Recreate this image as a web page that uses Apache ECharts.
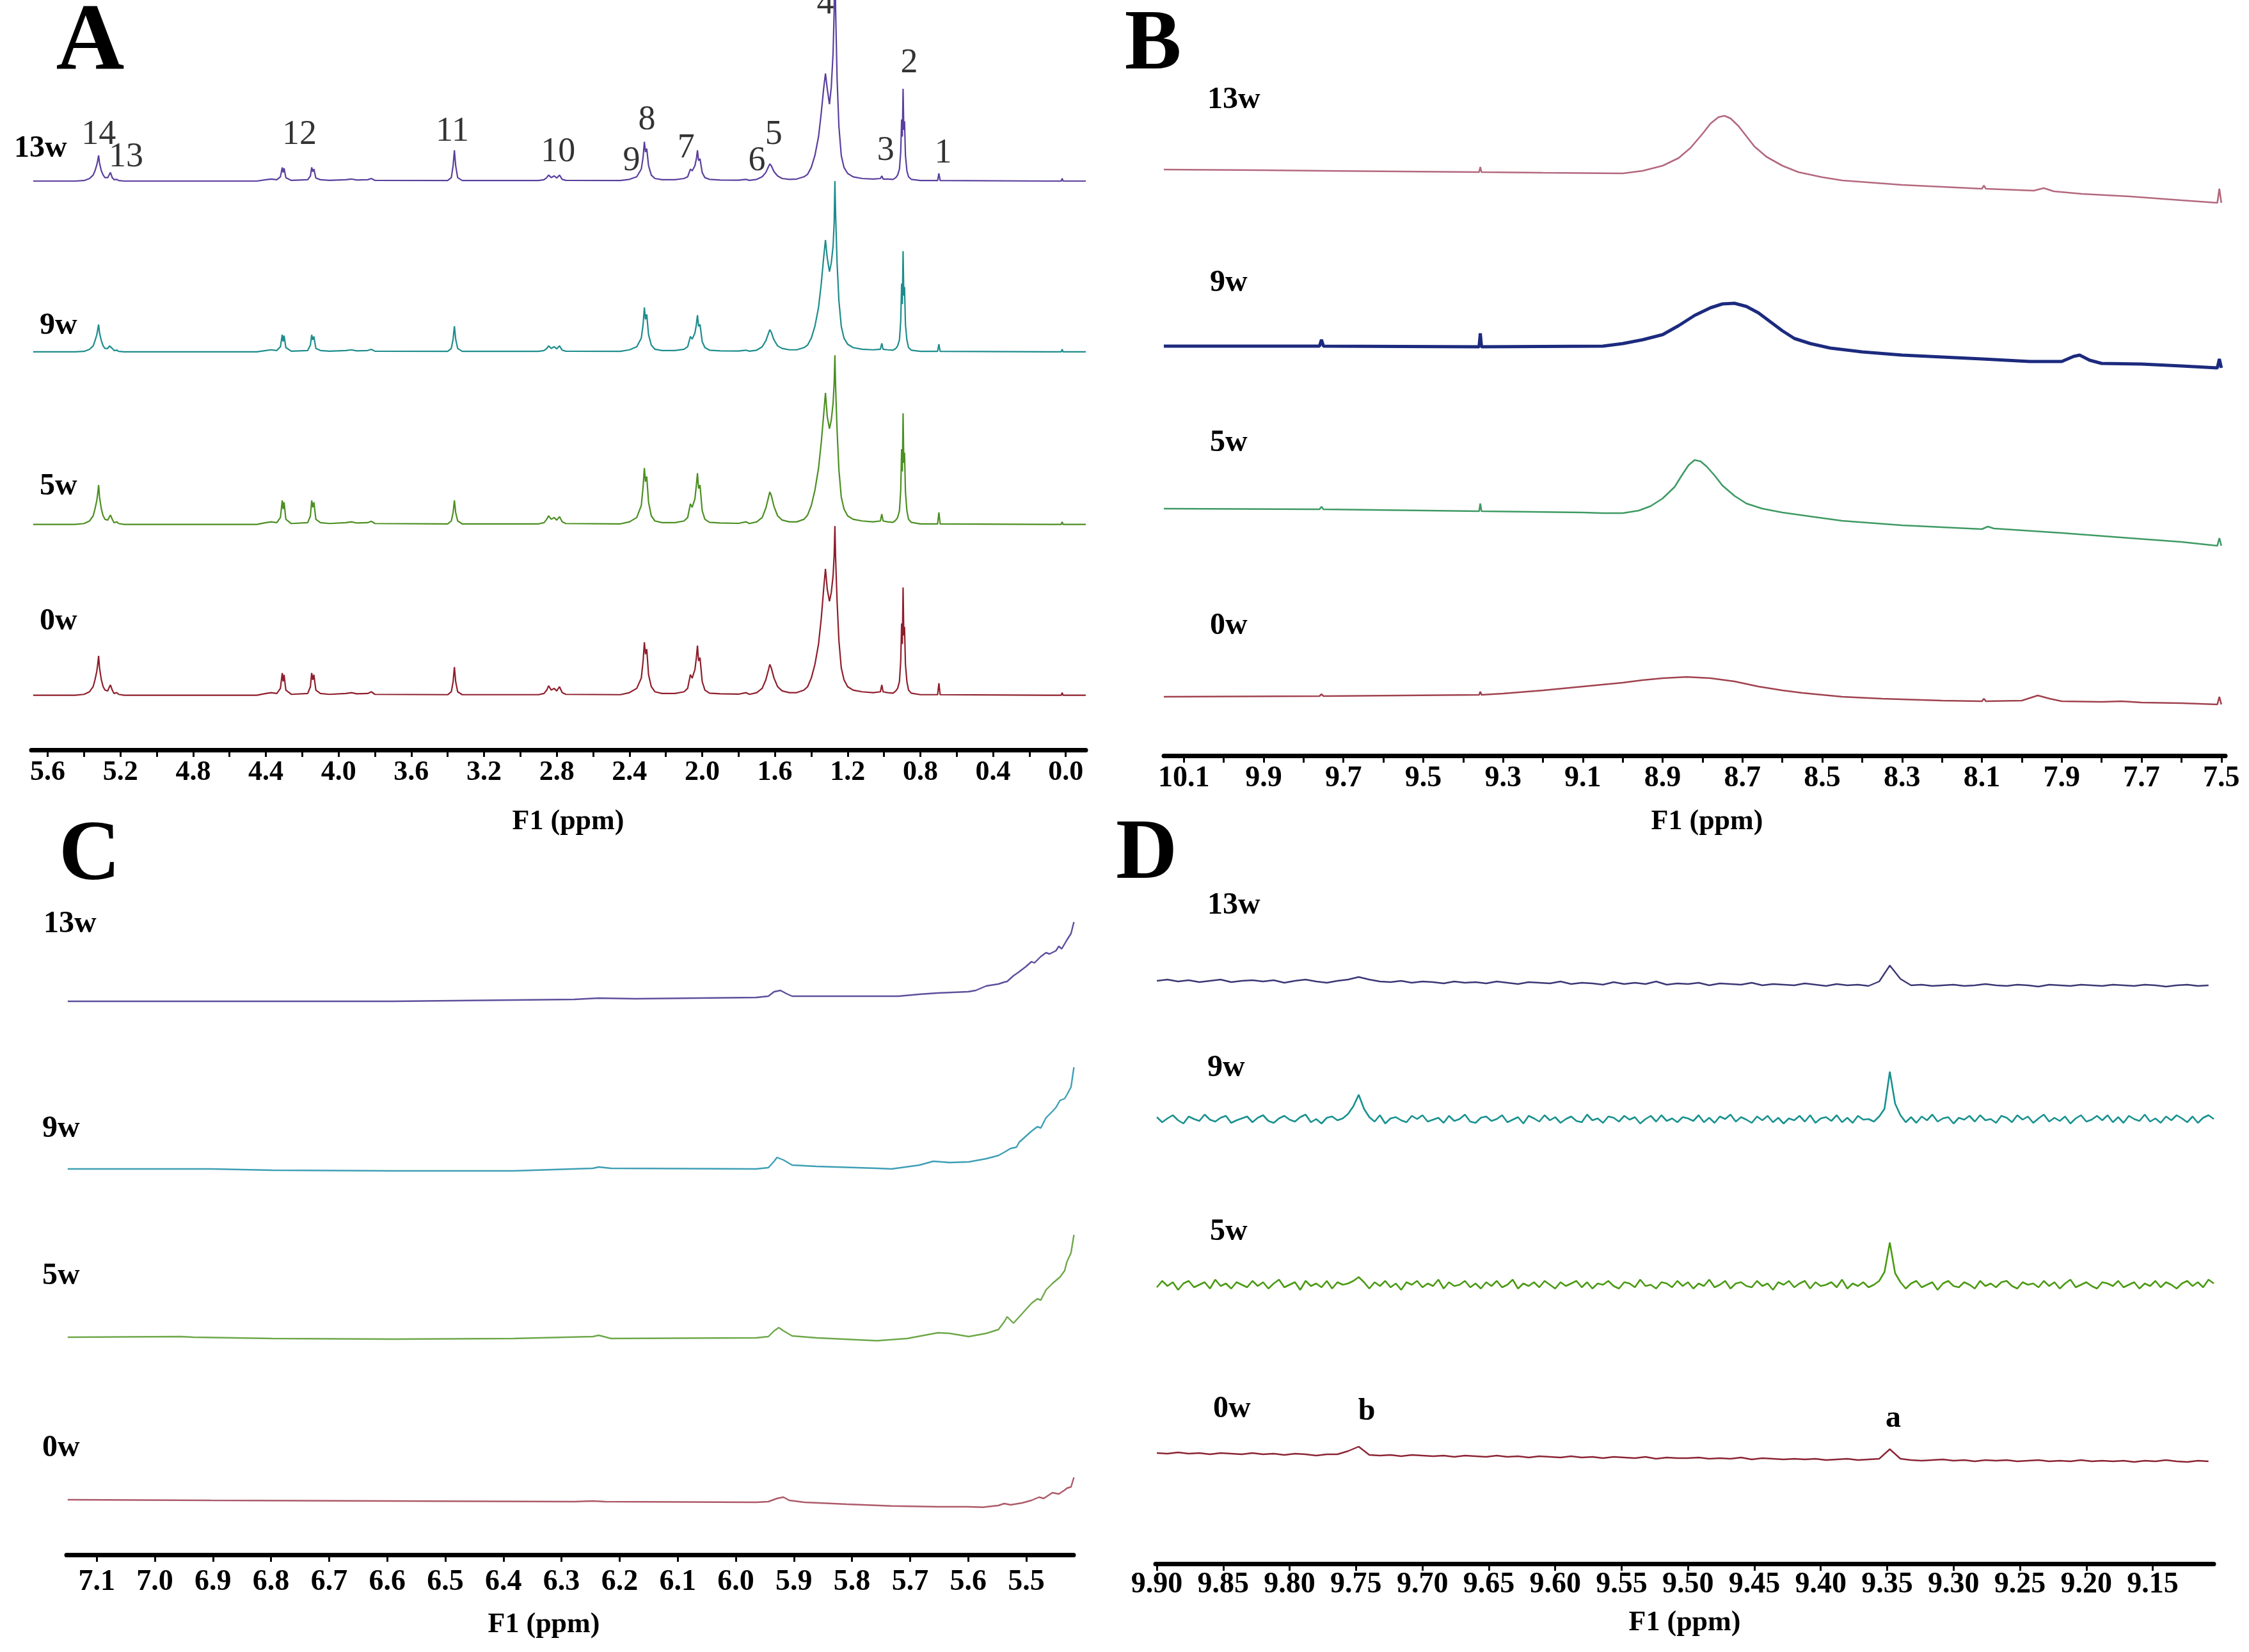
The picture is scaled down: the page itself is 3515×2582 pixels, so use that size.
<!DOCTYPE html>
<html><head><meta charset="utf-8">
<script src="https://cdn.jsdelivr.net/npm/echarts@6/dist/echarts.min.js"></script>
<style>html,body{margin:0;padding:0;background:#fff}#c{width:3515px;height:2582px}</style>
</head><body><div id="c"></div>
<script>
// ---------------- Panel A (full 1H spectrum) ----------------
const A_PPM = [
 5.68,5.45,5.40,5.37,5.35,5.34,5.33,5.325,5.32,5.315,5.305,5.295,5.285,5.27,5.26,5.255,5.245,5.235,5.22,5.21,5.18,
 4.45,4.40,4.37,4.34,4.32,4.31,4.305,4.30,4.29,4.26,4.17,4.155,4.148,4.142,4.136,4.125,4.10,4.05,
 3.96,3.93,3.90,3.84,3.82,3.80,
 3.40,3.38,3.37,3.363,3.356,3.345,3.32,
 2.90,2.87,2.855,2.845,2.83,2.815,2.80,2.785,2.77,2.75,
 2.45,2.40,2.36,2.335,2.325,2.318,2.312,2.305,2.295,2.28,2.26,2.22,
 2.15,2.10,2.08,2.065,2.055,2.04,2.032,2.026,2.02,2.012,2.00,1.985,1.96,
 1.90,1.80,1.76,1.74,1.70,1.67,1.65,1.635,1.628,1.62,1.605,1.585,1.56,1.52,
 1.48,1.44,1.42,1.40,1.38,1.36,1.345,1.332,1.322,1.312,1.300,1.29,1.28,1.274,1.270,1.266,1.258,1.248,1.235,1.22,1.20,1.17,1.12,
 1.06,1.02,1.012,1.005,0.98,
 0.95,0.935,0.925,0.915,0.908,0.903,0.899,0.895,0.891,0.887,0.882,0.874,0.865,0.85,0.80,
 0.705,0.698,0.691,
 0.10,0.025,0.02,0.015,-0.11
];
const A_0W = [
 0,0,0.5,2,5,9,14,18,23,16,9,5,3,2.5,5,6,3,1,1.5,0.5,0,
 0,1,1.5,1,4,13,8,12,3,0.5,1,5,13,9,12,3,1,0.5,
 1,1.5,0.8,1,2,0.5,
 0.3,2,8,16.5,8,2,0.3,
 0.3,1,3,5.5,3,4,2.5,5,1.5,0.5,
 0.3,1.5,4,10,20,31,24,27,12,5,2,1,
 1,2,4,12,10,15,22,29,20,22,8,3,1.2,
 0.8,0.6,1.5,0.5,1.5,4,9,15,18,16,10,5,2.5,1.5,
 1.5,3,5,10,18,30,45,62,74,62,55,60,70,82,99,80,55,32,16,9,5,3,2,
 1.5,2,6,2,1.5,
 1.2,2.5,4,8,20,42,30,63,35,40,18,8,3,1.2,0.3,
 0.3,7,0.3,
 0,0,1.5,0,0
];
const A_5W = [
 0,0,0.5,2,5,9,14,18,23,16,9,5,3,2.5,4.5,5.5,3,1,1.5,0.5,0,
 0,1,1.5,1,4,14,9,13,3,0.5,1,5,14,10,13,3,1,0.5,
 1,1.5,0.8,1,1.8,0.5,
 0.3,2,7,14,7,2,0.3,
 0.3,1,3,5,3,4,2.5,4.5,1.5,0.5,
 0.3,1.5,4,11,22,33,25,28,13,5,2,1,
 1,2,4,12,10,15,23,30,21,23,8,3,1.2,
 0.8,0.6,1.5,0.5,1.5,4,9.5,16,19,17,10.5,5,2.5,1.5,
 1.5,3,5.5,11,20,33,48,64,77,63,56,61,71,83,99,80,55,32,16,9,5,3,2,
 1.5,2,6,2,1.5,
 1.2,2.5,4,8,20,44,31,65,36,42,19,8,3,1.2,0.3,
 0.3,7,0.3,
 0,0,1.5,0,0
];
const A_9W = [
 0,0,0.3,1.5,3.5,6.5,10,13,16,11,6.5,3.5,2,2,3.5,4,2,0.8,1,0.3,0,
 0,0.8,1.2,0.8,3,10,6,9.5,2.5,0.4,0.8,4,10,7,9,2,0.8,0.4,
 0.8,1.2,0.6,0.8,1.5,0.4,
 0.3,2,7.5,15,7.5,2,0.3,
 0.3,0.8,2,3.5,2,3,1.8,3.5,1,0.4,
 0.3,1.2,3,8,16,26,19,22,10,4,1.5,0.8,
 0.8,1.5,3,9,7.5,11,16,21.5,15,16,6,2.5,1,
 0.6,0.5,1,0.4,1,3,6.5,11,13,11.5,7,3.5,2,1.2,
 1.2,2.5,4,8,15,26,40,55,65.5,55,47,52,62,76,100,80,52,30,15,8,4.5,2.5,1.5,
 1.2,1.5,5,1.5,1.2,
 1,2,3.5,7,18,40,28,59,33,38,16,7,2.5,1,0.3,
 0.3,4.5,0.3,
 0,0,1.5,0,0
];
const A_13W = [
 0,0,0.3,1.5,3.5,6,9.5,12,15,10.5,6,3.5,2,2,4,5,2,0.8,1,0.3,0,
 0,0.8,1.2,0.8,2.5,8,5,7.5,2,0.4,0.8,3,8,5.5,7,1.8,0.8,0.4,
 0.8,1.2,0.6,0.8,1.5,0.4,
 0.3,2,9,18,9,2,0.3,
 0.3,0.8,2,3.5,2,3,1.8,3.5,1,0.4,
 0.3,1,2.5,7,14,23,17,19,9,3.5,1.5,0.8,
 0.8,1.5,2.5,7,6,9,13,18,12,13,5,2,1,
 0.6,0.5,1,0.4,1,2.5,5,8.5,10,9,5.5,3,1.5,1,
 1.2,2.5,4,8,15,26,40,54,63,54,45,55,75,100,140,100,60,32,15,8,4.5,2.5,1.5,
 1.2,1.5,3,1.2,1.2,
 1,2,3.5,7,17,36,26,54,30,35,15,6,2.5,1,0.3,
 0.3,4.5,0.3,
 0,0,1.5,0,0
];
const A_PEAK_TEXT = ['14','13','12','11','10','9','8','7','6','5','4','3','2','1'];
const A_PEAK_PPM  = [5.320,5.169,4.215,3.374,2.793,2.389,2.304,2.089,1.699,1.607,1.322,0.991,0.861,0.675];
const A_PEAK_Y    = [328,315,328,330,318,312.6,336.5,320,312.6,328,404.3,318.6,370,317];
const A_TICKS  = [0,0.2,0.4,0.6,0.8,1.0,1.2,1.4,1.6,1.8,2.0,2.2,2.4,2.6,2.8,3.0,3.2,3.4,3.6,3.8,4.0,4.2,4.4,4.6,4.8,5.0,5.2,5.4,5.6];
const A_LABELS = [0.0,0.4,0.8,1.2,1.6,2.0,2.4,2.8,3.2,3.6,4.0,4.4,4.8,5.2,5.6];

// ---------------- Panel B (10.1 - 7.5 ppm) ----------------
const B_13W = [[10.15,0],[9.90,-0.5],[9.75,-1],[9.36,-2],[9.357,2],[9.354,-2],[9.20,-2.5],[9.00,-3],[8.95,-1],[8.90,3],[8.86,9],[8.83,17],[8.80,28],[8.78,36],[8.76,41],[8.745,42],[8.73,40],[8.71,34],[8.69,26],[8.67,18],[8.64,10],[8.60,3],[8.56,-2],[8.50,-6],[8.45,-8.5],[8.30,-12],[8.10,-15],[8.095,-12.5],[8.09,-15],[7.97,-16.5],[7.945,-14.5],[7.92,-17],[7.85,-19],[7.73,-21],[7.60,-24],[7.51,-26],[7.505,-15],[7.50,-26]];
const B_9W = [[10.15,0],[9.76,0],[9.755,5],[9.75,0],[9.36,-0.5],[9.357,10],[9.354,-0.5],[9.05,0],[9.00,2],[8.95,5],[8.90,9],[8.86,16],[8.82,24],[8.78,30],[8.75,33],[8.72,33.5],[8.69,31],[8.66,26],[8.63,19],[8.60,12],[8.57,6],[8.53,2],[8.48,-1.5],[8.40,-4.5],[8.30,-7],[8.20,-8.5],[8.10,-10],[7.98,-12],[7.90,-12],[7.87,-8],[7.855,-7],[7.83,-11],[7.80,-13.5],[7.70,-14],[7.60,-15.5],[7.51,-17],[7.505,-10],[7.50,-17]];
const B_5W = [[10.15,0],[9.76,-0.5],[9.755,1.5],[9.75,-0.5],[9.36,-2],[9.357,4],[9.354,-2],[9.10,-3],[9.05,-3.5],[9.00,-3.5],[8.96,-1.5],[8.93,2],[8.90,8],[8.87,17],[8.85,27],[8.835,34],[8.82,38],[8.805,37],[8.79,33],[8.77,26],[8.75,18],[8.72,10],[8.69,4],[8.65,0],[8.60,-3],[8.52,-6.5],[8.45,-9.5],[8.30,-13],[8.10,-16],[8.085,-14],[8.07,-15.5],[7.90,-19],[7.73,-23],[7.60,-26],[7.51,-29],[7.505,-23],[7.50,-29]];
const B_0W = [[10.15,0],[9.76,0.5],[9.755,2],[9.75,0.5],[9.36,1.5],[9.357,4],[9.354,1.5],[9.30,2.5],[9.20,5],[9.10,8],[9.00,11],[8.95,13],[8.90,14.5],[8.84,15.5],[8.78,14.5],[8.72,12],[8.66,8],[8.60,5],[8.55,3],[8.45,0],[8.35,-1.5],[8.20,-3],[8.10,-3.5],[8.095,-1.5],[8.09,-3.5],[8.00,-3],[7.96,1],[7.93,-1.5],[7.90,-3.5],[7.80,-4],[7.75,-3.5],[7.70,-4.5],[7.60,-5],[7.51,-6],[7.505,0],[7.50,-6]];
const B_TICKS  = [7.5,7.6,7.7,7.8,7.9,8.0,8.1,8.2,8.3,8.4,8.5,8.6,8.7,8.8,8.9,9.0,9.1,9.2,9.3,9.4,9.5,9.6,9.7,9.8,9.9,10.0,10.1];
const B_LABELS = [7.5,7.7,7.9,8.1,8.3,8.5,8.7,8.9,9.1,9.3,9.5,9.7,9.9,10.1];

// ---------------- Panel C (7.1 - 5.5 ppm) ----------------
const C_13W = [[7.15,0],[6.903,0],[6.590,0],[6.486,0.5],[6.278,1.5],[6.236,2.5],[6.173,2],[5.965,3],[5.944,4],[5.934,7.5],[5.923,8.5],[5.913,6],[5.903,4],[5.861,4],[5.757,4],[5.720,4],[5.684,5.5],[5.652,6.5],[5.600,7.5],[5.587,8.5],[5.569,12],[5.548,13.5],[5.538,15],[5.533,15.5],[5.522,20],[5.514,22.5],[5.501,27],[5.491,31],[5.486,30],[5.475,35],[5.466,38],[5.460,37],[5.449,39.5],[5.444,43],[5.439,41],[5.430,48],[5.423,53],[5.418,62]];
const C_9W = [[7.15,0],[6.903,0],[6.798,-1],[6.590,-1.5],[6.382,-1.5],[6.246,0.5],[6.236,1.5],[6.215,0.5],[5.965,0],[5.944,1],[5.934,6],[5.929,9],[5.918,7],[5.903,3],[5.861,2],[5.757,0.5],[5.732,0],[5.684,3],[5.660,6],[5.632,5],[5.599,5.5],[5.569,8],[5.548,10.5],[5.538,13],[5.527,16],[5.517,17],[5.512,21],[5.491,29.5],[5.481,33],[5.475,32],[5.466,40],[5.455,45],[5.449,48],[5.442,53.5],[5.434,55],[5.430,58],[5.423,64],[5.418,79.5]];
const C_5W = [[7.15,0],[6.955,0.5],[6.934,0],[6.798,-1],[6.590,-1.5],[6.382,-1],[6.246,0.5],[6.236,1.5],[6.215,-1],[5.965,-0.5],[5.944,0.5],[5.934,5],[5.926,7.5],[5.918,5],[5.903,1],[5.861,-0.5],[5.757,-2.75],[5.705,-1],[5.652,3.5],[5.632,3],[5.599,0.5],[5.569,3],[5.548,6],[5.538,12],[5.533,16],[5.522,11],[5.512,16],[5.491,26.5],[5.481,30],[5.475,29],[5.466,37],[5.455,42],[5.442,47],[5.434,52],[5.430,59],[5.423,66],[5.418,80]];
const C_0W = [[7.15,0.5],[6.903,0],[6.590,-0.5],[6.278,-1],[6.246,-0.5],[6.225,-1],[5.965,-1.5],[5.944,-1],[5.929,1.5],[5.918,2.5],[5.908,0],[5.882,-1.5],[5.809,-3],[5.732,-4.4],[5.652,-5],[5.600,-5],[5.575,-5.4],[5.548,-4],[5.538,-2.5],[5.527,-3.5],[5.507,-2],[5.491,0],[5.478,2.5],[5.470,1.5],[5.455,6],[5.444,5],[5.434,8],[5.430,9.5],[5.423,10.5],[5.418,18]];
const C_TICKS = [5.5,5.6,5.7,5.8,5.9,6.0,6.1,6.2,6.3,6.4,6.5,6.6,6.7,6.8,6.9,7.0,7.1];
const C_LABELS = C_TICKS;

// ---------------- Panel D (9.90 - 9.15 ppm) ----------------
const D_X_START = 9.90, D_STEP_FINE = 0.004, D_STEP_COARSE = 0.008;
const D_13W = [
 1.5,2.5,1,2,0.5,1.5,2.5,0.5,1.5,2, 1,2,0,1.5,2.5,1,0,1.5,2.5,4.5,
 2.5,1,0.5,1.5,0,1,0.5,-0.5,1,0, 0.5,-0.5,1,0,-1,0.5,0,-0.5,1,-1,
 0,-0.5,-1.5,0.5,-1,0,-1,1,-1.5,-0.5, -1,0,-2,-0.5,-1,-1.5,0,-2,-1,-1.5,
 -2,-0.5,-1.5,-2.5,-1,-2,-1.5,-2.5,1,13.5, 3,-2,-1.5,-2.5,-2,-1.5,-2.5,-2,-1,-2,
 -2.5,-1.5,-2,-3,-1.5,-2,-2.5,-1.5,-2,-2.5, -1.5,-2,-2.5,-1.5,-2,-3,-2,-1.5,-2.5,-2
];
const D_0W = [
 3.5,3,4,3,3.5,2.5,3.5,3,2.5,3.5, 2.5,3,2,3,2.5,1.5,2.5,2.5,5,8.5,
 2,1.5,2,1,2,1.5,1,1.5,0.5,1.5, 1,0.5,1.5,0.5,1,0,1,0.5,0,1,
 0,0.5,-0.5,0.5,0,-0.5,0.5,-1,0,-0.5, -0.5,0,-1,-0.5,-1,0,-1.5,-0.5,-1,-1.5,
 -1,-1.5,-1,-2,-1.5,-1,-2,-1.5,-1,6.5, -1,-2,-2.5,-2,-1.5,-2.5,-2,-3,-2,-2.5,
 -2,-3,-2.5,-2,-3,-2.5,-3,-2,-3,-2.5, -3,-2.5,-3.5,-2.5,-3,-2,-3,-3.5,-2.5,-3
];
const D_9W = [
 1.5,-2.5,0.5,3,-1,-3.5,2,0,-1.5,3.5,-0.5,-2,1,2.5,-3,-1,0.5,2,-2.5,1,
 3,-1.5,-3,0.5,2.5,-0.5,-2,1.5,3.5,-2.5,0,-3.5,1,2,-1,0.5,4,10,19,8,
 1.5,-2,3,-3.5,0.5,1.5,-1,-2.5,2.5,0,3,-2,-0.5,1,-3,2.5,-1.5,0,3.5,-2,
 -3,1,2,-1.5,0,3,-2.5,-0.5,1.5,-3.5,2.5,0.5,-2,3,-1,1.5,-3,0,2,-1.5,
 -2.5,3.5,-1,0.5,-3,2,1,-2,2.5,-0.5,1.5,-3.5,0,2.5,-2,3,-1.5,0.5,-2.5,1.5,
 0.5,-1.5,3,-2.5,1,-3,2,0,3.5,-2,1.5,-0.5,-3,2,-1,2.5,-2.5,1,-3.5,0.5,
 -1,2.5,-2,3,-3,0.5,1.5,-1.5,3,-2.5,1,-3,2.5,-0.5,0,-2,2,8,37,12,
 3,-2.5,1.5,-3,2,-1,3.5,-2,0.5,1.5,-3.5,1,-0.5,2.5,-2,3,-1,0,-3,2.5,
 1,-2.5,3,-0.5,2,-3,0.5,3.5,-2,1,-1.5,2,-3.5,0.5,3,-2,-0.5,2.5,-1,3,
 -2.5,1.5,-3,2.5,0,-1.5,3.5,-2,0.5,-3,2,-1,3,0.5,-2.5,2,-3,1,3,0
];
const D_5W = [
 -2,3,-1,2,-4,1,3,-2,0,2,-3,4,-1,1,-3,2,0,-2,3,-1,
 2,-3,1,4,-2,0,2,-4,3,-1,1,-2,3,-3,2,0,1,3,6,2,
 -3,2,-1,3,-2,1,-4,2,0,3,-2,1,-1,4,-3,2,-1,0,3,-2,
 1,-3,2,-1,3,-2,0,4,-3,1,-1,2,-2,3,0,-3,2,-1,1,3,
 -2,2,-3,1,0,3,-1,-3,2,1,-2,4,-1,0,-3,2,1,-2,3,-1,
 2,-3,1,-1,4,-2,0,3,-3,1,2,-1,-2,3,-1,1,-4,2,0,3,
 -2,1,3,-3,2,-1,0,2,-2,4,-3,1,-1,2,-2,0,3,10,33,9,
 2,-3,1,3,-2,0,2,-4,1,3,-1,-2,2,0,-3,3,-1,1,-2,2,
 3,-1,-3,2,0,1,-2,3,-1,2,-3,1,4,-2,0,2,-1,-3,2,1,
 -1,3,-2,0,2,-3,1,-1,3,-2,2,0,-3,1,3,-1,2,-2,4,1
];
const D_TICKS = [9.15,9.20,9.25,9.30,9.35,9.40,9.45,9.50,9.55,9.60,9.65,9.70,9.75,9.80,9.85,9.90];
const D_LABELS = D_TICKS;

const WEEKS = ['13w','9w','5w','0w'];

// stacking offsets (data units) for each trace, order 13w,9w,5w,0w
const OFF_A = [301,201,100,0];
const OFF_B = [458,320,193,46];
const OFF_C = [432.5,301.5,170,42.5];
const OFF_D = [454,347.5,218,83];

// ---------------- build ----------------
const FONT = '"Liberation Serif","Times New Roman",serif';
const withOff = (xs, ys, off) => xs.map((x,i)=>[x, ys[i]+off]);
const pairsOff = (pairs, off) => pairs.map(p=>[p[0], p[1]+off]);
const dGrid = (n, step) => Array.from({length:n}, (_,i)=> +(D_X_START - i*step).toFixed(4));

function line(idx, data, color, width){
  return {type:'line', xAxisIndex:idx, yAxisIndex:idx, data, symbol:'none', showSymbol:false,
    lineStyle:{color, width}, itemStyle:{color}, animation:false, silent:true, z:3};
}
function xAx(idx, min, max, ticks, labels, dec, fs, margin){
  return {type:'value', gridIndex:idx, inverse:true, min, max,
    axisLine:{show:true, onZero:false, lineStyle:{color:'#000', width:7}},
    axisTick:{show:true, inside:false, length:11, customValues:ticks, lineStyle:{color:'#000', width:3}},
    axisLabel:{show:true, customValues:labels, margin, formatter:v=>Number(v).toFixed(dec),
      fontFamily:FONT, fontWeight:'bold', fontSize:fs, color:'#000'},
    splitLine:{show:false}};
}
function yAx(idx, min, max){
  return {type:'value', gridIndex:idx, min, max, show:false, splitLine:{show:false}};
}
function txt(text, x, y, size, weight, align){
  return {type:'text', x, y, z:20, silent:true,
    style:{text, fill:'#000', fontFamily:FONT, fontSize:size, fontWeight:weight,
      align:align||'left', verticalAlign:'middle', textAlign:align||'left', textVerticalAlign:'middle'}};
}

const colA = ['#5a3f9e','#1e8c8c','#4c8f22','#8e1f2c'];
const colB = ['#b4687e','#1c2a7e','#3f9a63','#a0424f'];
const colC = ['#5f4f9c','#3f9fb5','#6ea84a','#ad5a6a'];
const colD = ['#3b3775','#17918f','#4a9a12','#8c2535'];

const dxF = dGrid(D_9W.length, D_STEP_FINE);
const dxC = dGrid(D_13W.length, D_STEP_COARSE);

const series = [
  line(0, withOff(A_PPM, A_13W, OFF_A[0]), colA[0], 2.2),
  line(0, withOff(A_PPM, A_9W,  OFF_A[1]), colA[1], 2.2),
  line(0, withOff(A_PPM, A_5W,  OFF_A[2]), colA[2], 2.2),
  line(0, withOff(A_PPM, A_0W,  OFF_A[3]), colA[3], 2.2),
  {type:'scatter', xAxisIndex:0, yAxisIndex:0, symbolSize:1, itemStyle:{color:'rgba(0,0,0,0)'}, silent:true, animation:false, z:10,
   data:A_PEAK_TEXT.map((t,i)=>({name:t, value:[A_PEAK_PPM[i], A_PEAK_Y[i]]})),
   label:{show:true, position:'inside', formatter:'{b}', fontFamily:FONT, fontSize:54, color:'#000'}},
  line(1, pairsOff(B_13W, OFF_B[0]), colB[0], 2.6),
  line(1, pairsOff(B_9W,  OFF_B[1]), colB[1], 5),
  line(1, pairsOff(B_5W,  OFF_B[2]), colB[2], 2.6),
  line(1, pairsOff(B_0W,  OFF_B[3]), colB[3], 2.6),
  line(2, pairsOff(C_13W, OFF_C[0]), colC[0], 2.4),
  line(2, pairsOff(C_9W,  OFF_C[1]), colC[1], 2.4),
  line(2, pairsOff(C_5W,  OFF_C[2]), colC[2], 2.4),
  line(2, pairsOff(C_0W,  OFF_C[3]), colC[3], 2.4),
  line(3, withOff(dxC, D_13W, OFF_D[0]), colD[0], 2.4),
  line(3, withOff(dxF, D_9W,  OFF_D[1]), colD[1], 2.6),
  line(3, withOff(dxF, D_5W,  OFF_D[2]), colD[2], 2.6),
  line(3, withOff(dxC, D_0W,  OFF_D[3]), colD[3], 2.4)
];

const graphics = [
  txt('A', 141, 69, 148, 'bold', 'center'),
  txt('B', 1802, 73, 133, 'bold', 'center'),
  txt('C', 140, 1340, 133, 'bold', 'center'),
  txt('D', 1792, 1338, 133, 'bold', 'center'),
  txt('F1 (ppm)', 888, 1285, 44, 'bold', 'center'),
  txt('F1 (ppm)', 2668, 1285, 44, 'bold', 'center'),
  txt('F1 (ppm)', 850, 2540, 44, 'bold', 'center'),
  txt('F1 (ppm)', 2633, 2537, 44, 'bold', 'center'),
  txt('b', 2136, 2207, 48, 'bold', 'center'),
  txt('a', 2959, 2218, 48, 'bold', 'center')
];
const nameA = [[22,233],[62,510],[62,761],[62,972]];
const nameB = [[1887,157],[1891,443],[1891,693],[1891,979]];
const nameC = [[68,1445],[66,1765],[66,1995],[66,2264]];
const nameD = [[1887,1416],[1887,1670],[1891,1926],[1896,2203]];
[nameA,nameB,nameC,nameD].forEach(arr=>arr.forEach((p,i)=>graphics.push(txt(WEEKS[i], p[0], p[1], 48, 'bold', 'left'))));

const chart = echarts.init(document.getElementById('c'), null, {renderer:'canvas', width:3515, height:2582});
chart.setOption({
  backgroundColor:'#ffffff',
  animation:false,
  grid:[
    {left:49,  top:0,    width:1648, height:1172},
    {left:1819,top:0,    width:1659, height:1181},
    {left:104, top:1300, width:1574, height:1130},
    {left:1806,top:1300, width:1654, height:1144}
  ],
  xAxis:[
    xAx(0, -0.11, 5.69, A_TICKS, A_LABELS, 1, 44, 14),
    xAx(1, 7.49, 10.15, B_TICKS, B_LABELS, 1, 46, 13),
    xAx(2, 5.4185, 7.152, C_TICKS, C_LABELS, 1, 46, 20),
    xAx(3, 9.104, 9.901, D_TICKS, D_LABELS, 2, 46, 10)
  ],
  yAxis:[ yAx(0,-32,407), yAx(1,0,590.5), yAx(2,0,565), yAx(3,0,572) ],
  series,
  graphic:graphics
});
</script>
</body></html>
